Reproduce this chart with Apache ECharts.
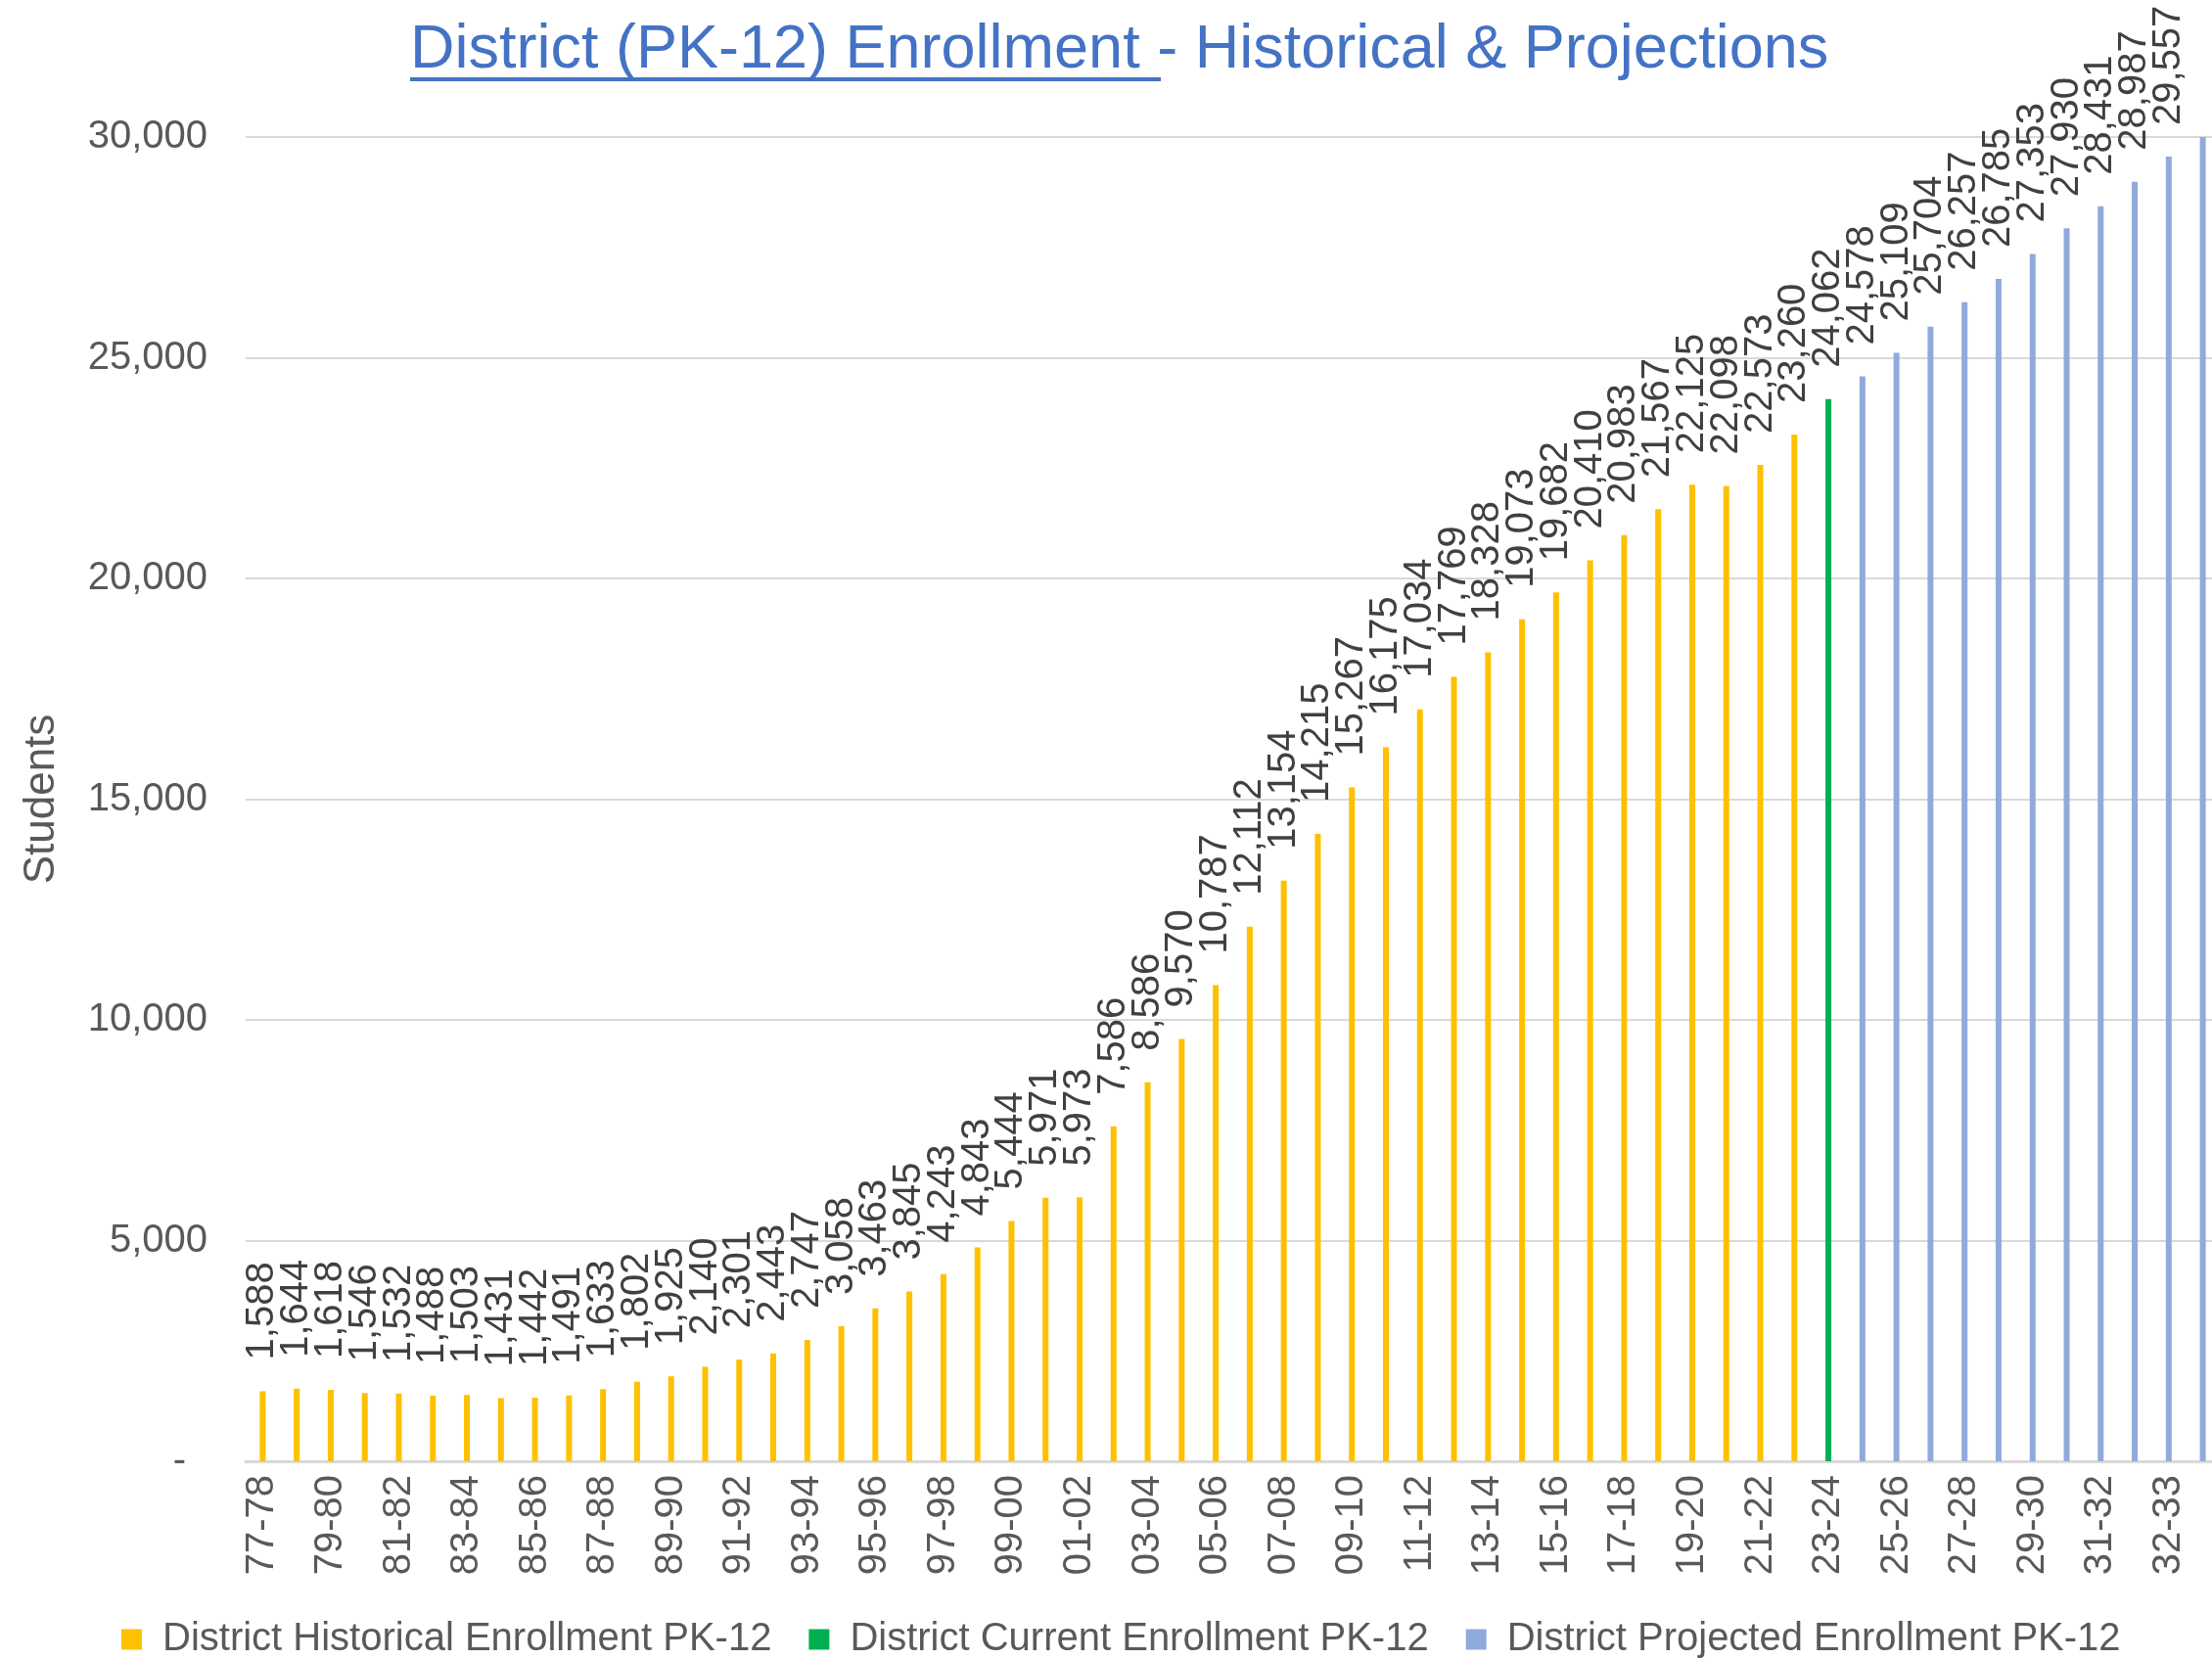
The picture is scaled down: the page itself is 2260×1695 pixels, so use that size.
<!DOCTYPE html>
<html>
<head>
<meta charset="utf-8">
<title>District (PK-12) Enrollment</title>
<script src="https://cdn.jsdelivr.net/npm/echarts@6/dist/echarts.min.js"></script>
<style>
html, body { margin: 0; padding: 0; background: #fff; }
#chart { width: 2260px; height: 1695px; }
</style>
</head>
<body>
<div id="chart"></div>
<script>
// school years (tick labels as they appear on the axis)
const years = [
  '77-78','78-79','79-80','80-81','81-82','82-83','83-84','84-85','85-86','86-87',
  '87-88','88-89','89-90','90-91','91-92','92-93','93-94','94-95','95-96','96-97',
  '97-98','98-99','99-00','00-01','01-02','02-03','03-04','04-05','05-06','06-07',
  '07-08','08-09','09-10','10-11','11-12','12-13','13-14','14-15','15-16','16-17',
  '17-18','18-19','19-20','20-21','21-22','22-23','23-24','24-25','25-26','26-27',
  '27-28','28-29','29-30','30-31','31-32','32-33','32-33','33-34'
];

const historical = [
  1588, 1644, 1618, 1546, 1532, 1488, 1503, 1431, 1442, 1491,
  1633, 1802, 1925, 2140, 2301, 2443, 2747, 3058, 3463, 3845,
  4243, 4843, 5444, 5971, 5973, 7586, 8586, 9570, 10787, 12112,
  13154, 14215, 15267, 16175, 17034, 17769, 18328, 19073, 19682, 20410,
  20983, 21567, 22125, 22098, 22573, 23260
];
const current = [24062];
const projected = [24578, 25109, 25704, 26257, 26785, 27353, 27930, 28431, 28987, 29557, 30140];

const yTicks = { min: 0, max: 30000, step: 5000 };

const fontFamily = '"Liberation Sans", Arial, sans-serif';
const fmt = v => Number(v).toLocaleString('en-US');

// each series sits on its own slice of the category axis
const pad = n => new Array(n).fill('-');
const histData = historical.concat(pad(current.length + projected.length));
const curData = pad(historical.length).concat(current, pad(projected.length));
const projData = pad(historical.length + current.length).concat(
  projected.map((v, i) => i === projected.length - 1 ? { value: v, label: { show: false } } : v)
);

const barLabel = {
  show: true,
  position: 'top',
  rotate: 90,
  align: 'left',
  verticalAlign: 'middle',
  distance: 32,
  fontSize: 40,
  fontFamily: fontFamily,
  color: '#404040',
  formatter: p => fmt(p.value)
};

const chart = echarts.init(document.getElementById('chart'));
chart.setOption({
  animation: false,
  backgroundColor: '#fff',
  textStyle: { fontFamily: fontFamily },
  title: {
    text: '{u|District (PK-12) Enrollment }{n|- Historical & Projections}',
    left: 419,
    top: 20,
    padding: 0,
    textStyle: {
      rich: {
        u: { fontSize: 63, fontWeight: 'normal', color: '#4472C4', fontFamily: fontFamily },
        n: { fontSize: 63, fontWeight: 'normal', color: '#4472C4', fontFamily: fontFamily }
      }
    }
  },
  graphic: [{
    // underline under the first part of the title
    type: 'line',
    shape: { x1: 419, y1: 81, x2: 1186, y2: 81 },
    style: { stroke: '#4472C4', lineWidth: 4 }
  }],
  legend: {
    left: 119,
    top: 1650,
    itemWidth: 21,
    itemHeight: 21,
    itemGap: 38,
    icon: 'rect',
    textStyle: { fontSize: 40, color: '#595959', fontFamily: fontFamily, padding: [0, 0, 0, 16] },
    data: [
      'District Historical Enrollment PK-12',
      'District Current Enrollment PK-12',
      'District Projected Enrollment PK-12'
    ]
  },
  grid: {
    left: 251,
    right: -8,
    top: 140,
    bottom: 202,
    containLabel: false,
    outerBoundsMode: 'none'
  },
  xAxis: {
    type: 'category',
    data: years,
    axisTick: { show: false },
    axisLine: { lineStyle: { color: '#D9D9D9', width: 3 } },
    axisLabel: {
      interval: 1,
      rotate: 90,
      margin: 14,
      fontSize: 40,
      color: '#595959',
      fontFamily: fontFamily
    }
  },
  yAxis: {
    type: 'value',
    min: yTicks.min,
    max: yTicks.max,
    interval: yTicks.step,
    name: 'Students',
    nameLocation: 'middle',
    nameGap: 186,
    nameTextStyle: { fontSize: 44, color: '#595959', fontFamily: fontFamily },
    axisLine: { show: false },
    axisTick: { show: false },
    splitLine: { lineStyle: { color: '#D9D9D9', width: 2 } },
    axisLabel: {
      margin: 39,
      fontSize: 40,
      color: '#595959',
      fontFamily: fontFamily,
      formatter: v => v === 0 ? '{z|-}' : fmt(v),
      rich: {
        z: { fontSize: 40, color: '#595959', fontFamily: fontFamily, padding: [0, 22, 0, 0] }
      }
    }
  },
  series: [
    {
      name: 'District Historical Enrollment PK-12',
      type: 'bar',
      data: histData,
      barWidth: 6,
      barGap: '-100%',
      itemStyle: { color: '#FFC000' },
      label: barLabel
    },
    {
      name: 'District Current Enrollment PK-12',
      type: 'bar',
      data: curData,
      barWidth: 6,
      barGap: '-100%',
      itemStyle: { color: '#00B050' },
      label: barLabel
    },
    {
      name: 'District Projected Enrollment PK-12',
      type: 'bar',
      data: projData,
      barWidth: 6,
      barGap: '-100%',
      itemStyle: { color: '#8FAADC' },
      label: barLabel
    }
  ]
});
</script>
</body>
</html>
